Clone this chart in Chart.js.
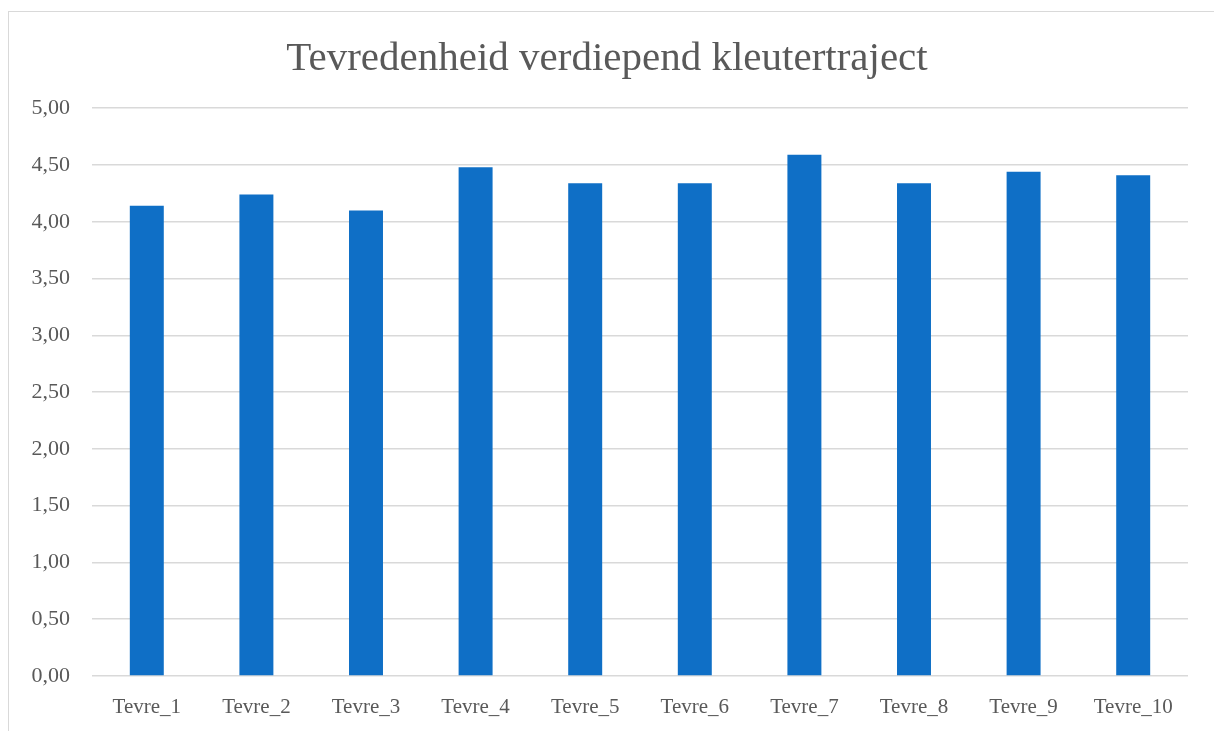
<!DOCTYPE html>
<html>
<head>
<meta charset="utf-8">
<script src="https://cdn.jsdelivr.net/npm/chart.js@4.4.1/dist/chart.umd.min.js"></script>
<style>
html,body{margin:0;padding:0;background:#fff;overflow:hidden;}
#frame{position:absolute;left:8px;top:11px;width:1230px;height:740px;border:1px solid #d9d9d9;box-sizing:border-box;}
#wrap{position:absolute;left:0;top:0;width:1214px;height:731px;}
</style>
</head>
<body>
<div id="frame"></div>
<div id="wrap"><canvas id="c" width="1214" height="731"></canvas></div>
<script>
const categories = ["Tevre_1","Tevre_2","Tevre_3","Tevre_4","Tevre_5","Tevre_6","Tevre_7","Tevre_8","Tevre_9","Tevre_10"];
const values = [4.14, 4.24, 4.10, 4.48, 4.34, 4.34, 4.59, 4.34, 4.44, 4.41];
const yTicks = [0, 0.5, 1, 1.5, 2, 2.5, 3, 3.5, 4, 4.5, 5];
const titleText = "Tevredenheid verdiepend kleutertraject";

const FONT = "'Liberation Serif', serif";
const TXT = "#595959";

new Chart(document.getElementById('c'), {
  type: 'bar',
  data: {
    labels: categories,
    datasets: [{
      data: values,
      backgroundColor: '#0F6FC6',
      barPercentage: 0.31,
      categoryPercentage: 1.0
    }]
  },
  options: {
    responsive: false,
    animation: false,
    devicePixelRatio: 1,
    layout: { padding: { left: 26, right: 26, top: 0, bottom: 0 } },
    plugins: {
      legend: { display: false },
      tooltip: { enabled: false },
      title: {
        display: true,
        text: titleText,
        color: TXT,
        font: { family: FONT, size: 41, weight: 'normal' },
        padding: { top: 35, bottom: 24 }
      }
    },
    scales: {
      x: {
        grid: { display: false, drawTicks: false },
        border: { display: false },
        ticks: { color: TXT, font: { family: FONT, size: 21 }, padding: 19, maxRotation: 0, autoSkip: false },
        afterFit: s => { s.height = 55; }
      },
      y: {
        min: 0, max: 5,
        afterBuildTicks: s => { s.ticks = yTicks.map(v => ({ value: v })); },
        grid: { color: '#d9d9d9', lineWidth: 1.5, drawTicks: false },
        border: { display: false },
        ticks: { color: TXT, font: { family: FONT, size: 22 }, padding: 22,
                 callback: v => Number(v).toFixed(2).replace('.', ',') },
        afterFit: s => { s.width = 66; }
      }
    }
  }
});
</script>
</body>
</html>
